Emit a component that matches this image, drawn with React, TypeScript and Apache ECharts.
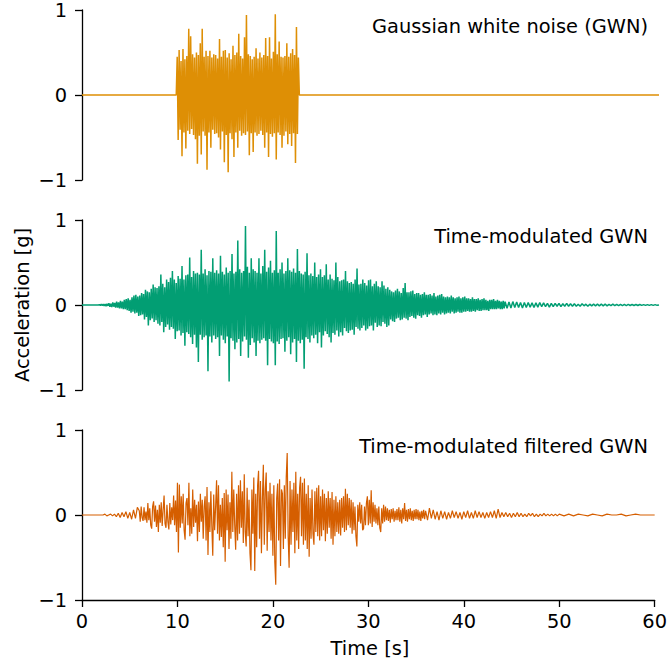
import React, { useEffect, useRef } from "react";
import * as echarts from "echarts";

const FONT = "DejaVu Sans";
const FS = 19.4;
const C_GWN = "#DE8F05";
const C_TM = "#029E73";
const C_TMF = "#D55E00";

const X_TICKS = [0, 10, 20, 30, 40, 50, 60];
const Y_TICKS = [-1, 0, 1];
const TITLES = ["Gaussian white noise (GWN)", "Time-modulated GWN", "Time-modulated filtered GWN"];

// All values in 0.01 g. Each block: start time, step, values.
// Panel 1: Gaussian white noise (start 9.8 s, step 0.1 s)
const gwnValues = [0,
  45, -53, 53, -41, 40, -72, 54, -44, 42, -63,
  46, -42, 78, -46, 69, -40, 48, -47, 44, -52,
  50, -81, 47, -48, 61, -70, 78, -43, 45, -48,
  52, -88, 46, -44, 52, -62, 44, -41, 48, -46,
  47, -45, 43, -50, 66, -64, 45, -43, 52, -79,
  53, -47, 44, -91, 49, -45, 42, -52, 58, -73,
  47, -44, 50, -62, 72, -42, 46, -48, 43, -45,
  68, -47, 94, -43, 48, -71, 46, -45, 42, -67,
  45, -44, 55, -48, 43, -46, 50, -42, 44, -47,
  47, -62, 67, -44, 46, -73, 68, -46, 43, -49,
  51, -45, 95, -76, 48, -44, 63, -47, 45, -62,
  44, -48, 46, -43, 61, -58, 45, -46, 49, -60,
  54, -45, 47, -80, 80, -46, 44,
  0];

// Panel 2: time-modulated GWN
const tmEarly = [ // 1.6 s, step 0.1
  0, 0, 0.5, -0.5, 1, -0.5, 1, -1, 1, -1.5,
  1.5, -1, 2, -2, 1.5, -2.5, 3, -2, 2.5, -3,
  4, -3, 3, -4, 5, -4, 4, -5, 6, -5,
  7, -6, 8, -7, 6, -9, 9, -8, 11, -10,
  12, -9, 10, -13, 11, -12, 14, -11, 13, -17,
  18, -14, 16, -24, 15, -18, 19, -16, 24, -20,
  21, -18, 20, -22];
const tmCore = [ // 8.0 s, step 0.1
  22, -24, 36, -20, 25, -32, 21, -26, 30, -23,
  27, -29, 32, -26, 40, -28, 30, -40, 26, -31,
  34, -30, 31, -36, 46, -33, 30, -48, 35, -32,
  36, -34, 56, -38, 33, -46, 40, -35, 37, -50,
  38, -67, 36, -35, 65, -41, 37, -38, 42, -36,
  35, -78, 40, -37, 39, -44, 55, -36, 38, -40,
  41, -38, 37, -60, 58, -36, 39, -41, 36, -45,
  44, -37, 38, -90, 40, -39, 60, -42, 37, -52,
  39, -44, 76, -40, 42, -60, 38, -43, 40, -37,
  93, -41, 45, -62, 38, -47, 55, -39, 42, -44,
  40, -60, 38, -42, 55, -45, 37, -41, 46, -39,
  65, -42, 39, -71, 44, -40, 52, -43, 38, -45,
  41, -71, 87, -43, 38, -46, 42, -40, 50, -39,
  37, -55, 40, -42, 55, -38, 41, -58, 39, -44,
  43, -40, 38, -67, 66, -42, 40, -45, 37, -41,
  36, -75, 39, -38, 61, -40, 35, -44, 37, -36,
  34, -39, 50, -35, 33, -45, 36, -32, 42, -50,
  33, -36, 35, -31, 48, -34, 30, -38, 36, -44,
  31, -33, 29, -35, 50, -30, 33, -37, 28, -32,
  29, -36, 30, -27, 40, -31, 28, -33, 26, -30,
  27, -29, 25, -35, 30, -26, 43, -28, 24, -30,
  25, -27, 30, -24, 26, -30, 23, -28, 29, -25,
  30, -24, 22, -30, 25, -21, 28, -26, 22, -24,
  21, -25, 28, -20, 23, -22, 19, -26, 21, -24];
const tmLate = [ // 32.0 s, step 0.1
  18, -17, 16, -19, 15, -20, 17, -16, 19, -15,
  16, -18, 14, -17, 20, -15, 26, -16, 15, -18,
  15, -14, 16, -13, 17, -15, 13, -16, 14, -12,
  14, -13, 12, -15, 13, -12, 15, -11, 12, -14,
  12, -11, 13, -10, 11, -12, 14, -11, 10, -12,
  11, -10, 12, -11, 13, -9, 10, -11, 9, -10,
  10, -9, 9, -10, 11, -8, 9, -10, 8, -9,
  9, -8, 10, -9, 8, -9, 9, -8, 10, -8,
  8, -7, 8, -8, 7, -8, 9, -7, 7, -8,
  7, -6, 8, -7, 6, -7, 7, -6, 8, -6,
  6, -6, 5, -7, 6, -5, 6, -5, 7, -5,
  5, -5, 6, -4, 5, -5, 4, -5, 5, -4];
const tmTail = [ // 44.0 s, step 0.2
  4, -4, 3.5, -3.5, 4, -3, 3.5, -3, 3, -3.5,
  3, -3, 3, -2.5, 2.5, -3, 2.5, -2.5, 3, -2,
  2.5, -2, 2, -2.5, 2, -2, 2, -1.5, 2, -2,
  1.5, -1.5, 2, -1.5, 1.5, -1.5, 1.5, -1.5, 1, -1.5,
  1.5, -1, 1, -1.5, 1, -1, 1, -1, 1, -1,
  1, -1, 1, -1, 0.8, -0.8, 1, -0.8, 0.8, -0.8,
  0.8, -0.7, 0.7, -0.7, 0.7, -0.6, 0.6, -0.6, 0.6, -0.6,
  0.6, -0.5, 0.5, -0.5, 0.5, -0.5, 0.5, -0.4, 0.4, -0.4];

// Panel 3: time-modulated filtered GWN
const tmfEarly = [0, 0, 1, -1, 0, 1, -1, 1, -2, 2, -3, 3, -2, 4, -4, 3, -5, 6, -4, 9]; // 2.0 s, step 0.2
const tmfCore = [ // 6.0 s, step 0.1
  5, -8, 10, -3, -7, 9, -6, 4, -9, 14,
  -6, 8, -12, -16, 10, 16, -8, 11, -14, 6,
  -20, 12, -9, 15, -13, 6, 23, -10, -15, 12,
  -8, -17, 14, -11, 9, -6, 23, -12, 17, -20,
  38, -44, 36, -15, 22, -10, 25, -18, -29, 14,
  20, -12, 38, -25, 8, -22, 30, -14, 18, -9,
  12, -31, 16, -20, 25, -8, 18, -28, 10, 22,
  -30, 33, -47, 15, -20, 28, -12, -48, 24, -18,
  10, 41, -22, 35, -30, 12, -26, 20, -38, 26,
  -55, 30, -18, 24, -40, 15, -28, 51, -20, 30,
  -12, -41, 25, -30, 35, -22, 41, -15, 28, -33,
  48, -20, -37, 32, -25, 18, -45, -65, 30, -22,
  44, -66, 25, -38, 35, 52, -28, 40, -45, 20,
  59, -35, 30, 50, -42, 28, -20, 38, -30, 25,
  -48, 35, -55, -82, 20, 37, -30, 42, -60, 30,
  25, -40, 35, -28, 45, 73, -25, -62, 40, -35,
  30, -20, 38, -45, 51, -30, 25, -40, 32, 45,
  -25, 38, -35, 43, -30, 25, -40, 35, -49, 20,
  -28, 30, -22, -35, 28, -20, 32, -25, 35, -30,
  22, -25, 30, -18, 25, -31, 20, -22, 28, -15,
  20, -28, 27, -35, 18, -25, 22, -20, 15, -22,
  18, -24, 20, -15, 22, -20, 31, -18, 25, -12,
  20, -15, 18, -22, 15, -18, 10, -25, -37, 12,
  -8, 15, -10, 12, -18, -16, 10, -12, 14, 22,
  -12, 18, -10, 29, -14, 15, -8, 12, -10, 8,
  -12, 10, -15, -20, 8, -10, 12, -8, 10, -6,
  8, -7, 6, -9, 7, -5, 8, -8, 5, -6,
  7, -6, 9, -8, 6, -10, 8, -5, 14, -7,
  6, -8, 7, -5, 8, -6, 5, -7, 6, -5,
  7, -5, 6, -6, 4, -7, 5, -4, 6, -5];
const tmfLate = [ // 36.0 s, step 0.2
  5, -6, 8, -4, 6, -5, 4, -6, 5, -4,
  4, -5, 3, -4, 5, -3, 4, -4, 3, -5,
  4, -3, 5, -4, 3, -4, 5, -3, 4, -3,
  3, -4, 3, -3, 4, -3, 5, -4, 7, -3,
  3, -2, 3, -2, 2, -3, 2, -2, 3, -2,
  2, -2, 1, -2, 2, -1, 2, -2, 1, -2,
  1, -1, 2, -1, 1, -1, 1, -1, 1, -1];
const tmfTail = [1, -1, 1, -1, 1, 0, -1, 1, 0, -1, 1, 0, 0, 1, -1, 0, 1, 0, 0, 0]; // 50.0 s, step 0.5

type Block = [number, number, number[]];
function build(blocks: Block[]): number[][] {
  const out: number[][] = [[0, 0]];
  for (const [t0, dt, vals] of blocks) {
    vals.forEach((v, i) => out.push([Math.round((t0 + i * dt) * 100) / 100, v / 100]));
  }
  out.push([60, 0]);
  return out;
}

const minus = (v: number) => (v < 0 ? "\u2212" + Math.abs(v) : String(v));

export default function App() {
  const ref = useRef<HTMLDivElement>(null);
  useEffect(() => {
    if (!ref.current) return;
    const chart = echarts.init(ref.current, null, { renderer: "svg" });
    const tops = [10, 220, 430];
    const data = [
      build([[9.8, 0.1, gwnValues]]),
      build([[1.6, 0.1, tmEarly], [8.0, 0.1, tmCore], [32.0, 0.1, tmLate], [44.0, 0.2, tmTail]]),
      build([[2.0, 0.2, tmfEarly], [6.0, 0.1, tmfCore], [36.0, 0.2, tmfLate], [50.0, 0.5, tmfTail]]),
    ];
    const colors = [C_GWN, C_TM, C_TMF];
    const widths = [1.5, 1.5, 1.2];
    const axisColor = "#000";
    const lw = 1.3;
    chart.setOption({
      animation: false,
      backgroundColor: "#fff",
      textStyle: { fontFamily: FONT },
      grid: tops.map((t) => ({ left: 82, right: 11, top: t, height: 170, containLabel: false })),
      xAxis: tops.map((_, i) => ({
        type: "value",
        gridIndex: i,
        min: X_TICKS[0],
        max: X_TICKS[X_TICKS.length - 1],
        interval: 10,
        show: i === 2,
        axisLine: { show: true, onZero: false, lineStyle: { color: axisColor, width: lw } },
        axisTick: { show: true, length: 7, lineStyle: { color: axisColor, width: lw } },
        axisLabel: { show: true, color: "#000", fontSize: FS, fontFamily: FONT, margin: 12 },
        splitLine: { show: false },
      })),
      yAxis: tops.map((_, i) => ({
        type: "value",
        gridIndex: i,
        min: Y_TICKS[0],
        max: Y_TICKS[Y_TICKS.length - 1],
        interval: 1,
        axisLine: { show: true, onZero: false, lineStyle: { color: axisColor, width: lw } },
        axisTick: { show: true, length: 7, lineStyle: { color: axisColor, width: lw } },
        axisLabel: { color: "#000", fontSize: FS, fontFamily: FONT, margin: 15, formatter: minus },
        splitLine: { show: false },
      })),
      series: data.map((d, i) => ({
        type: "line",
        xAxisIndex: i,
        yAxisIndex: i,
        data: d,
        showSymbol: false,
        symbol: "none",
        lineStyle: { color: colors[i], width: widths[i] },
        itemStyle: { color: colors[i] },
      })),
      graphic: [
        ...TITLES.map((txt, i) => ({
          type: "text",
          x: 648,
          y: tops[i] + 16,
          style: { text: txt, fill: "#000", fontSize: FS, fontFamily: FONT, align: "right", verticalAlign: "middle" },
        })),
        {
          type: "text",
          x: 22,
          y: 305,
          rotation: Math.PI / 2,
          style: { text: "Acceleration [g]", fill: "#000", fontSize: FS, fontFamily: FONT, align: "center", verticalAlign: "middle" },
        },
        {
          type: "text",
          x: 370,
          y: 648,
          style: { text: "Time [s]", fill: "#000", fontSize: FS, fontFamily: FONT, align: "center", verticalAlign: "middle" },
        },
      ],
    });
    return () => chart.dispose();
  }, []);
  return <div ref={ref} style={{ position: "fixed", left: 0, top: 0, width: 670, height: 664, background: "#fff" }} />;
}
